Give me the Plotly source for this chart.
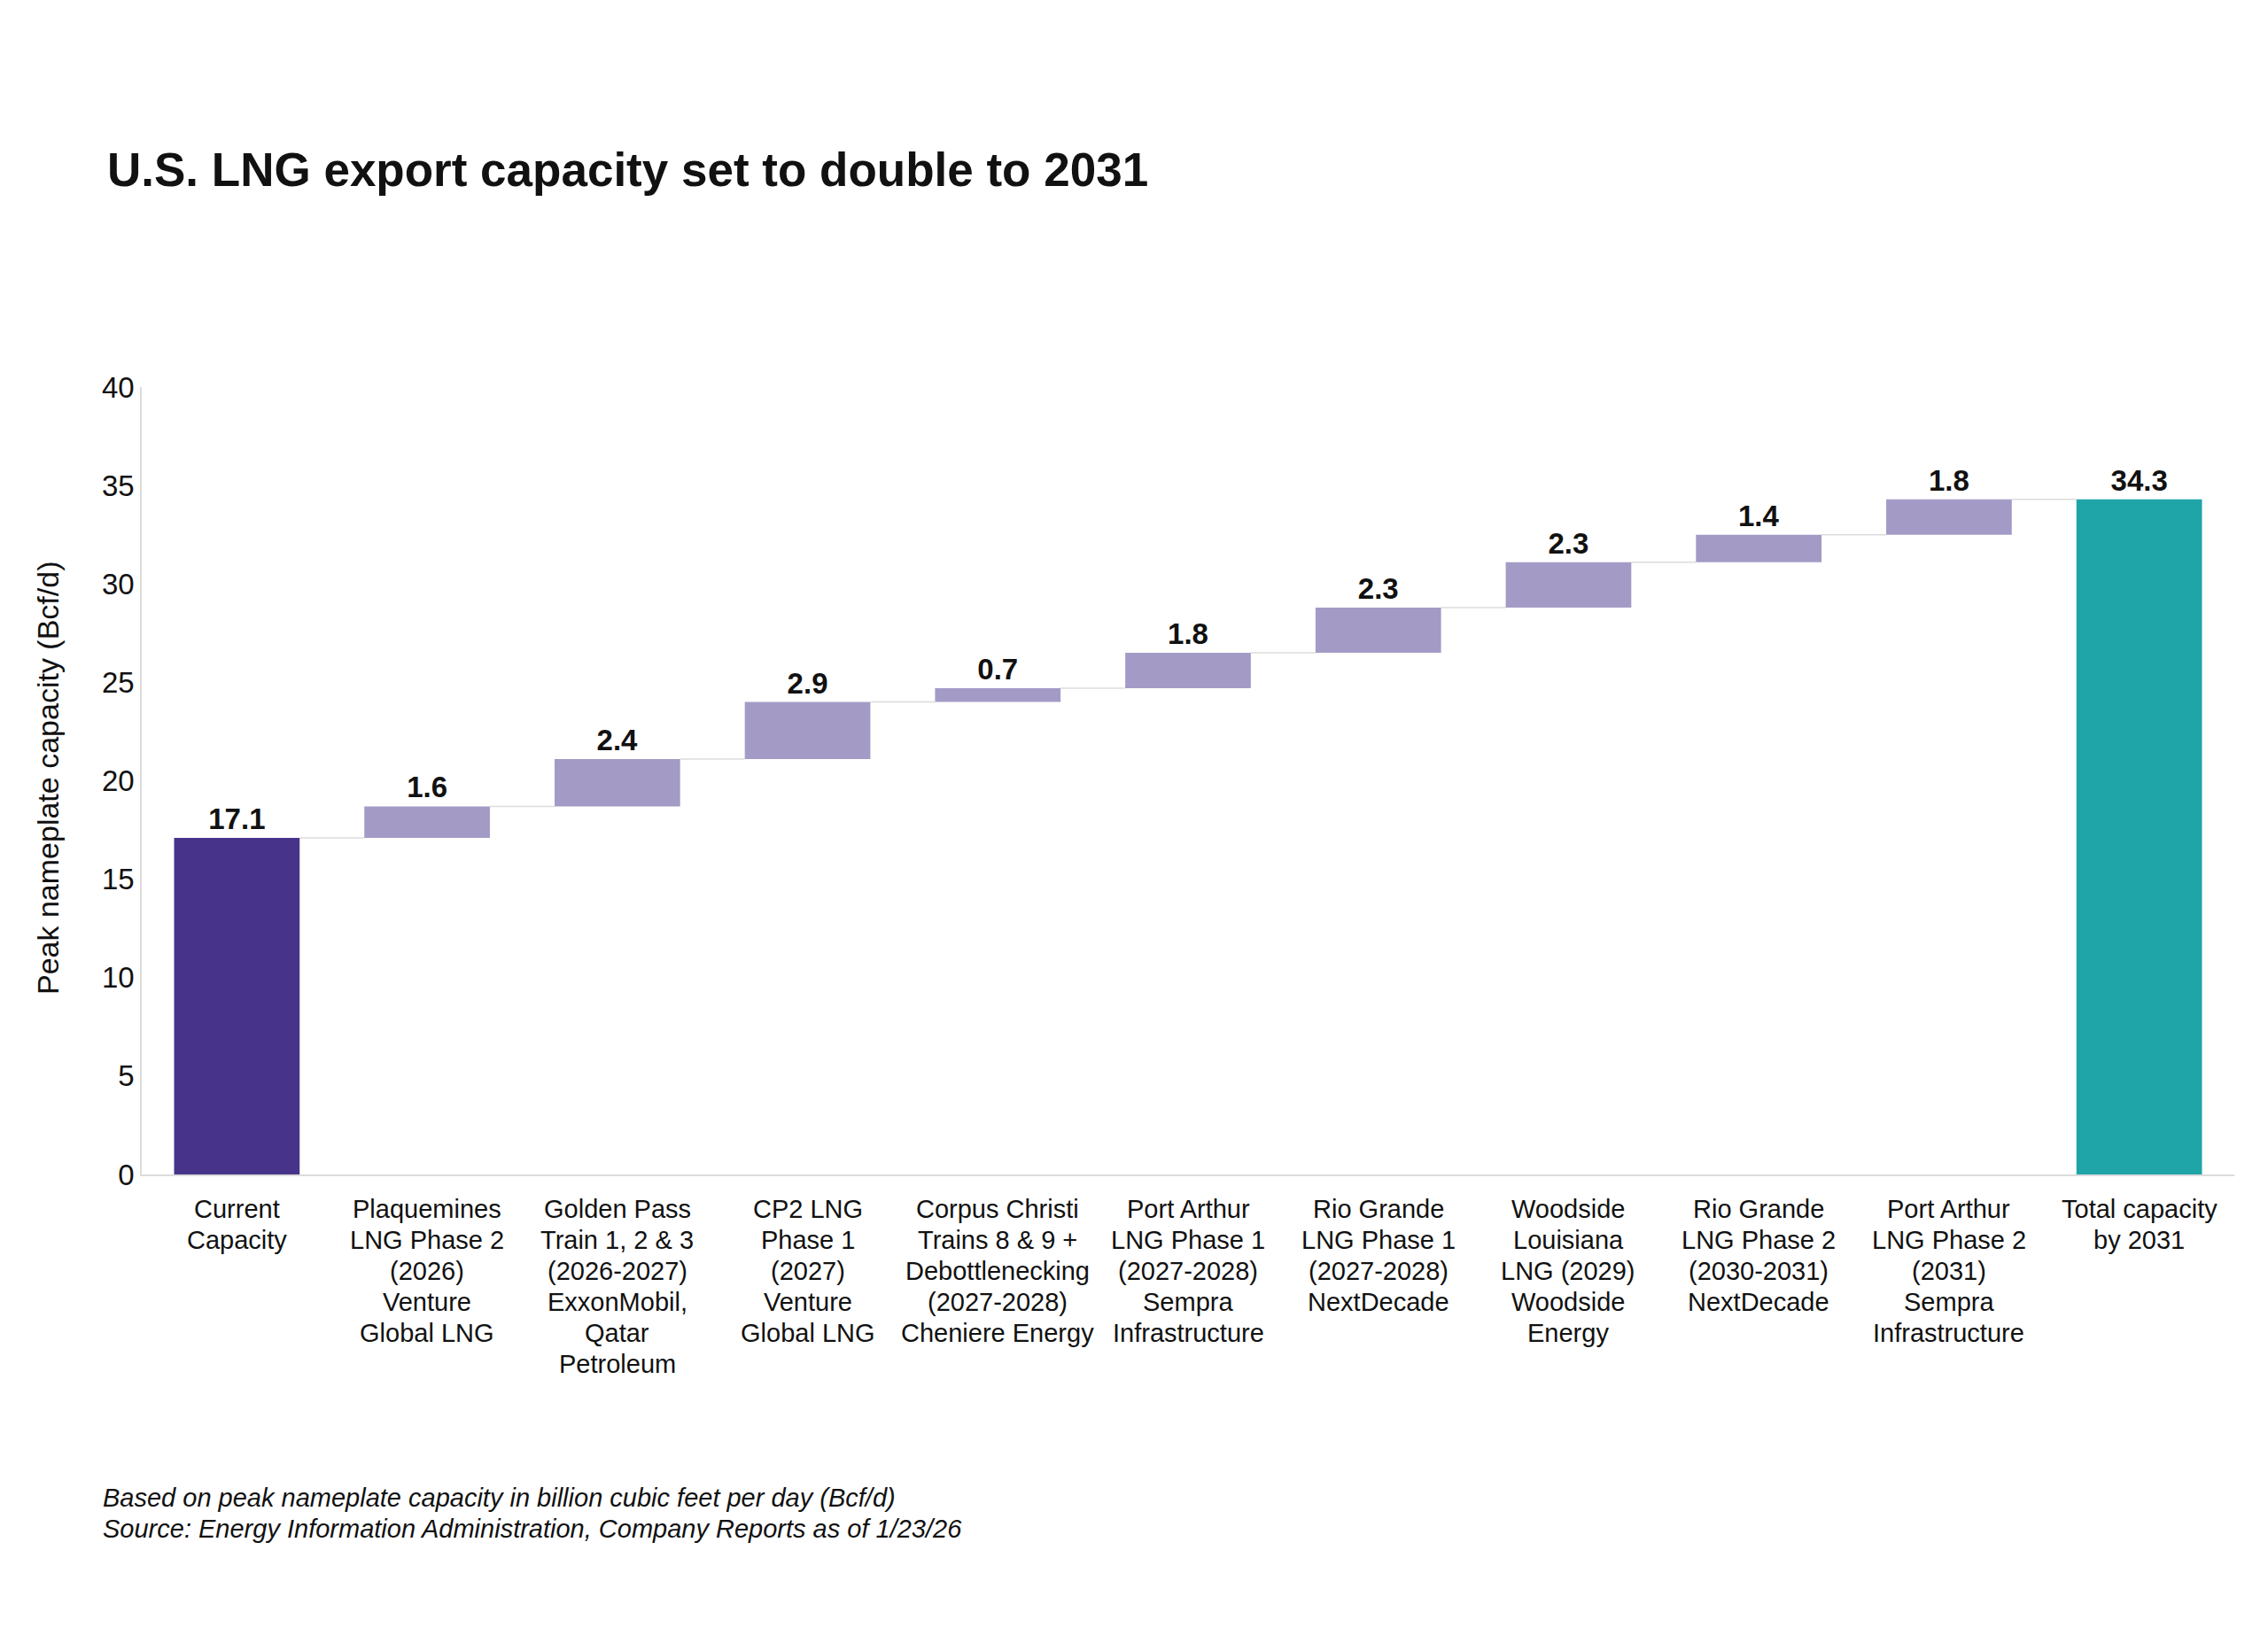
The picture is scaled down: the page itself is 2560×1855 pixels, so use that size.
import plotly.graph_objects as go
import numpy as np

categories = [
    "Current<br>Capacity",
    "Plaquemines<br>LNG Phase 2<br>(2026)<br>Venture<br>Global LNG",
    "Golden Pass<br>Train 1, 2 & 3<br>(2026-2027)<br>ExxonMobil,<br>Qatar<br>Petroleum",
    "CP2 LNG<br>Phase 1<br>(2027)<br>Venture<br>Global LNG",
    "Corpus Christi<br>Trains 8 & 9 +<br>Debottlenecking<br>(2027-2028)<br>Cheniere Energy",
    "Port Arthur<br>LNG Phase 1<br>(2027-2028)<br>Sempra<br>Infrastructure",
    "Rio Grande<br>LNG Phase 1<br>(2027-2028)<br>NextDecade",
    "Woodside<br>Louisiana<br>LNG (2029)<br>Woodside<br>Energy",
    "Rio Grande<br>LNG Phase 2<br>(2030-2031)<br>NextDecade",
    "Port Arthur<br>LNG Phase 2<br>(2031)<br>Sempra<br>Infrastructure",
    "Total capacity<br>by 2031",
]
current_capacity = 17.1
additions = [1.6, 2.4, 2.9, 0.7, 1.8, 2.3, 2.3, 1.4, 1.8]
total_capacity = 34.3
y_ticks = [0, 5, 10, 15, 20, 25, 30, 35, 40]

title_text = "U.S. LNG export capacity set to double to 2031"
y_title = "Peak nameplate capacity (Bcf/d)"
footnote_lines = [
    "Based on peak nameplate capacity in billion cubic feet per day (Bcf/d)",
    "Source: Energy Information Administration, Company Reports as of 1/23/26",
]

FONT = "Liberation Sans, Arial, sans-serif"
C_CURRENT = "#47348a"
C_ADD = "#a39bc6"
C_TOTAL = "#1fa4a8"
C_LINE = "#dcdcdc"
TXT = "#111111"

W, H = 2560, 1855
L, R, T, B = 160, 38, 437, 529
plot_w = W - L - R
plot_h = H - T - B

n = len(categories)
xs = list(range(n))
cum = np.cumsum([current_capacity] + additions)
bases = [0] + list(cum[:-1]) + [0]
heights = [current_capacity] + additions + [total_capacity]
colors = [C_CURRENT] + [C_ADD] * len(additions) + [C_TOTAL]
labels = [f"{v:.1f}" for v in heights]
tops = [b + h for b, h in zip(bases, heights)]

bw = 0.66
fig = go.Figure()
fig.add_trace(go.Bar(
    x=xs, y=heights, base=bases, width=bw,
    marker=dict(color=colors, line=dict(width=0)),
    text=labels, textposition="outside",
    textfont=dict(family=FONT, size=33, color=TXT, weight="bold"),
    cliponaxis=False, showlegend=False, hoverinfo="skip",
))

# connectors between consecutive bars
for i in range(n - 1):
    lvl = tops[i]
    fig.add_shape(type="line", xref="x", yref="y",
                  x0=i + bw / 2, x1=i + 1 - bw / 2, y0=lvl, y1=lvl,
                  line=dict(color=C_LINE, width=1.5), layer="below")

fig.update_layout(
    width=W, height=H,
    margin=dict(l=L, r=R, t=T, b=B, autoexpand=False),
    paper_bgcolor="white", plot_bgcolor="white",
    font=dict(family=FONT, color=TXT),
    title=dict(text=f"<b>{title_text}</b>", x=121 / W, xanchor="left",
               y=1 - 191 / H, yanchor="middle", xref="container", yref="container",
               font=dict(family=FONT, size=53, color=TXT)),
    xaxis=dict(
        tickmode="array", tickvals=xs, showticklabels=False,
        range=[-0.5, n - 0.5], showgrid=False, zeroline=False,
        showline=True, linecolor=C_LINE, linewidth=1.5, ticks="",
    ),
    yaxis=dict(
        range=[0, 40], tickvals=y_ticks, showgrid=False, zeroline=False,
        showline=True, linecolor=C_LINE, linewidth=1.5,
        ticks="", tickfont=dict(family=FONT, size=33, color=TXT),
    ),
)

# category labels, one annotation per line for exact line spacing
for i, cat in enumerate(categories):
    for k, line in enumerate(cat.split("<br>")):
        fig.add_annotation(
            text=line, x=i, xref="x", y=0, yref="paper",
            yshift=-(39 + 35 * k), xanchor="center", yanchor="middle",
            showarrow=False, font=dict(family=FONT, size=29, color=TXT),
        )

fig.add_annotation(
    text=y_title, textangle=-90, xref="paper", yref="paper",
    x=(54 - L) / plot_w, y=(H - B - 879) / plot_h, xanchor="center", yanchor="middle",
    showarrow=False, font=dict(family=FONT, size=34, color=TXT),
)
for k, line in enumerate(footnote_lines):
    fig.add_annotation(
        text=f"<i>{line}</i>", xref="paper", yref="paper", align="left",
        x=(114 - L) / plot_w, y=(H - B - (1691 + 35 * k)) / plot_h,
        xanchor="left", yanchor="middle",
        showarrow=False, font=dict(family=FONT, size=29, color=TXT),
    )

fig.write_html("out.html")
